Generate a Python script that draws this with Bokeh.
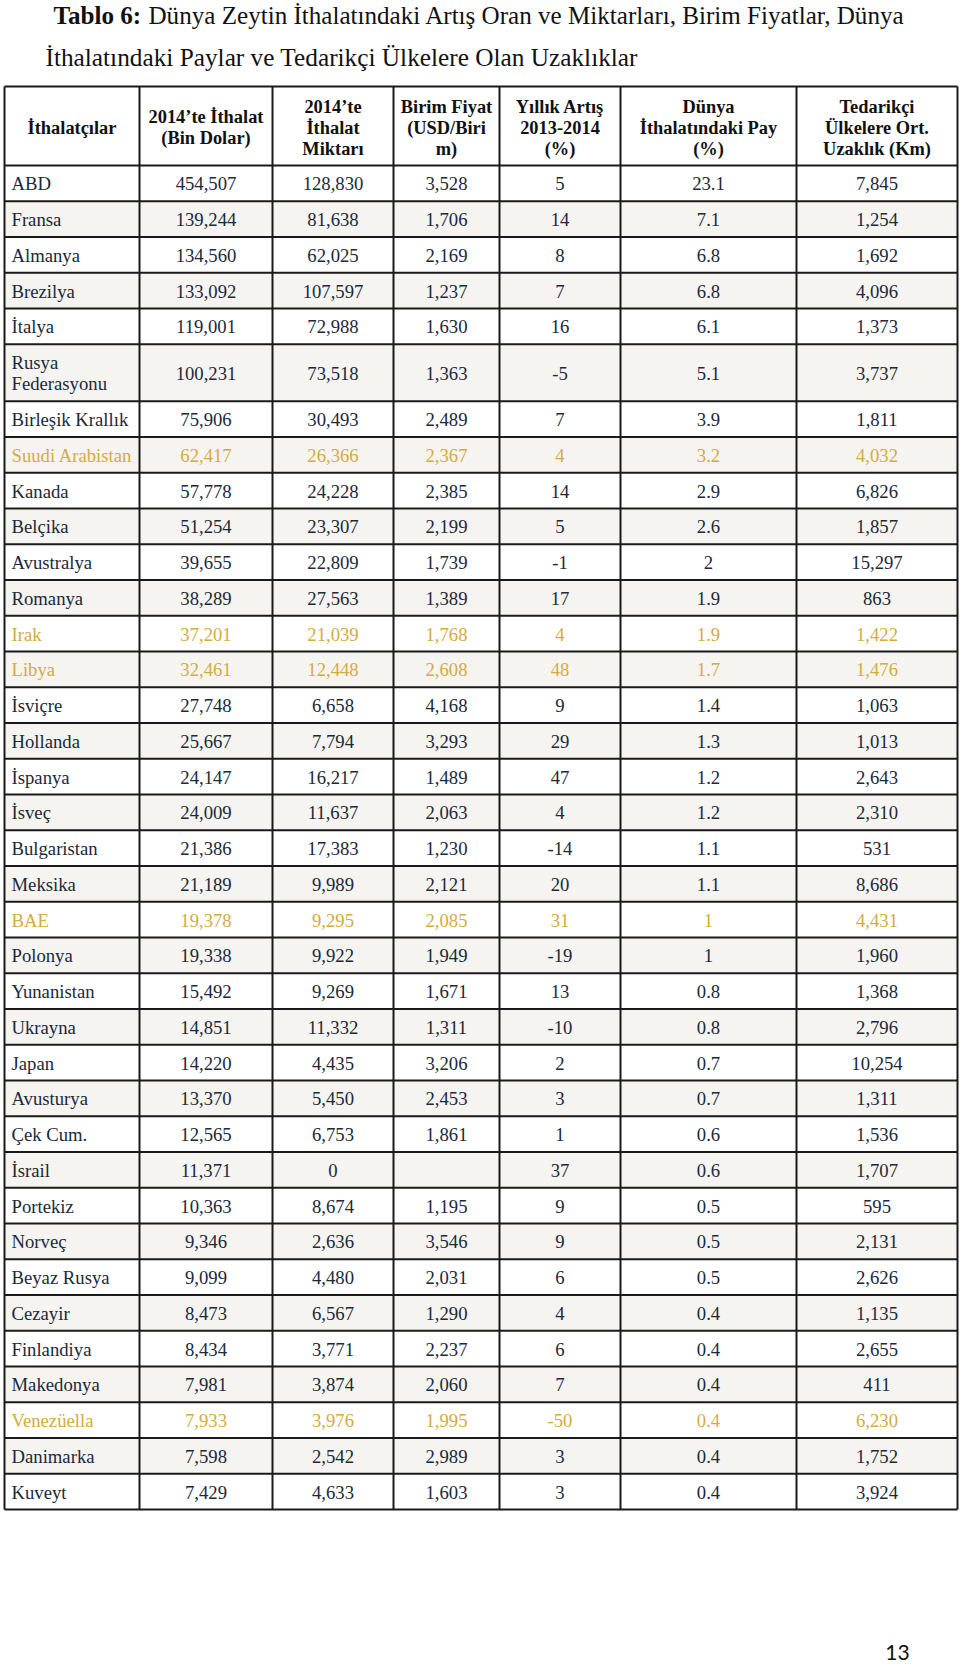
from bokeh.plotting import figure
from bokeh.models import ColumnDataSource, Range1d
from bokeh.core.properties import value
from bokeh.embed import file_html
from bokeh.resources import INLINE

# ---------------- data ----------------
countries = ["ABD", "Fransa", "Almanya", "Brezilya", "İtalya", "Rusya Federasyonu",
             "Birleşik Krallık", "Suudi Arabistan", "Kanada", "Belçika", "Avustralya",
             "Romanya", "Irak", "Libya", "İsviçre", "Hollanda", "İspanya", "İsveç",
             "Bulgaristan", "Meksika", "BAE", "Polonya", "Yunanistan", "Ukrayna", "Japan",
             "Avusturya", "Çek Cum.", "İsrail", "Portekiz", "Norveç", "Beyaz Rusya",
             "Cezayir", "Finlandiya", "Makedonya", "Venezüella", "Danimarka", "Kuveyt"]
import_value = [454507, 139244, 134560, 133092, 119001, 100231, 75906, 62417, 57778, 51254,
                39655, 38289, 37201, 32461, 27748, 25667, 24147, 24009, 21386, 21189,
                19378, 19338, 15492, 14851, 14220, 13370, 12565, 11371, 10363, 9346,
                9099, 8473, 8434, 7981, 7933, 7598, 7429]
import_qty = [128830, 81638, 62025, 107597, 72988, 73518, 30493, 26366, 24228, 23307,
              22809, 27563, 21039, 12448, 6658, 7794, 16217, 11637, 17383, 9989,
              9295, 9922, 9269, 11332, 4435, 5450, 6753, 0, 8674, 2636,
              4480, 6567, 3771, 3874, 3976, 2542, 4633]
unit_price = [3528, 1706, 2169, 1237, 1630, 1363, 2489, 2367, 2385, 2199,
              1739, 1389, 1768, 2608, 4168, 3293, 1489, 2063, 1230, 2121,
              2085, 1949, 1671, 1311, 3206, 2453, 1861, None, 1195, 3546,
              2031, 1290, 2237, 2060, 1995, 2989, 1603]
growth = [5, 14, 8, 7, 16, -5, 7, 4, 14, 5, -1, 17, 4, 48, 9, 29, 47, 4, -14, 20,
          31, -19, 13, -10, 2, 3, 1, 37, 9, 9, 6, 4, 6, 7, -50, 3, 3]
world_share = [23.1, 7.1, 6.8, 6.8, 6.1, 5.1, 3.9, 3.2, 2.9, 2.6, 2, 1.9, 1.9, 1.7, 1.4,
               1.3, 1.2, 1.2, 1.1, 1.1, 1, 1, 0.8, 0.8, 0.7, 0.7, 0.6, 0.6, 0.5, 0.5,
               0.5, 0.4, 0.4, 0.4, 0.4, 0.4, 0.4]
distance = [7845, 1254, 1692, 4096, 1373, 3737, 1811, 4032, 6826, 1857, 15297, 863, 1422,
            1476, 1063, 1013, 2643, 2310, 531, 8686, 4431, 1960, 1368, 2796, 10254, 1311,
            1536, 1707, 595, 2131, 2626, 1135, 2655, 411, 6230, 1752, 3924]
highlighted = ["Suudi Arabistan", "Irak", "Libya", "BAE", "Venezüella"]
two_line_names = ["Rusya Federasyonu"]

headers = [["İthalatçılar"],
           ["2014’te İthalat", "(Bin Dolar)"],
           ["2014’te", "İthalat", "Miktarı"],
           ["Birim Fiyat", "(USD/Biri", "m)"],
           ["Yıllık Artış", "2013-2014", "(%)"],
           ["Dünya", "İthalatındaki Pay", "(%)"],
           ["Tedarikçi", "Ülkelere Ort.", "Uzaklık (Km)"]]
title_bold = "Tablo 6:"
title_rest = "Dünya Zeytin İthalatındaki Artış Oran ve Miktarları, Birim Fiyatlar, Dünya"
title_line2 = "İthalatındaki Paylar ve Tedarikçi Ülkelere Olan Uzaklıklar"
page_number = "13"

# ---------------- layout ----------------
W, H = 960, 1666
SERIF = value("Liberation Serif")
TEXT_C = "#1b2939"
GOLD_C = "#d5ab3e"
GREY_BG = "#f5f4f0"
LINE_C = "#1a1a1a"

col_edges = [4, 139, 272, 393, 499, 620, 796, 957]
header_top, header_bot = 86, 165
row_h, row_h2 = 35.75, 57
line_gap = 21

p = figure(width=W, height=H, x_range=Range1d(0, W), y_range=Range1d(H, 0),
           output_backend="svg", toolbar_location=None, min_border=0)
p.axis.visible = False
p.xgrid.visible = False
p.ygrid.visible = False
p.outline_line_color = None
p.background_fill_color = "white"
p.border_fill_color = "white"


def fmt_int(v):
    return "" if v is None else f"{v:,}"


def fmt_share(v):
    return f"{v:g}"


# rows geometry
tops, bots = [], []
y = header_bot
for name in countries:
    h = row_h2 if name in two_line_names else row_h
    tops.append(y)
    bots.append(y + h)
    y += h

# alternating backgrounds
gq = dict(left=[], right=[], top=[], bottom=[])
for i in range(len(countries)):
    if i % 2 == 1:
        gq["left"].append(col_edges[0]); gq["right"].append(col_edges[-1])
        gq["top"].append(tops[i]); gq["bottom"].append(bots[i])
p.quad(source=ColumnDataSource(gq), left="left", right="right", top="top", bottom="bottom",
       fill_color=GREY_BG, line_color=None)

# grid lines
hy = [header_top, header_bot] + bots
seg = dict(x0=[], y0=[], x1=[], y1=[])
for yy in hy:
    seg["x0"].append(col_edges[0]); seg["x1"].append(col_edges[-1])
    seg["y0"].append(yy); seg["y1"].append(yy)
for xx in col_edges:
    seg["x0"].append(xx); seg["x1"].append(xx)
    seg["y0"].append(header_top); seg["y1"].append(bots[-1])
p.segment(source=ColumnDataSource(seg), x0="x0", y0="y0", x1="x1", y1="y1",
          line_color=LINE_C, line_width=2)

# title
p.text(x=[53], y=[15], text=[title_bold], text_font=SERIF, text_font_size="25.1px",
       text_font_style="bold", text_color="#111111", text_baseline="middle", text_align="left")
p.text(x=[148], y=[15], text=[title_rest], text_font=SERIF, text_font_size="25.1px",
       text_color="#111111", text_baseline="middle", text_align="left")
p.text(x=[45], y=[56], text=[title_line2], text_font=SERIF, text_font_size="25.3px",
       text_color="#111111", text_baseline="middle", text_align="left")

# header
hd = dict(x=[], y=[], text=[])
hc = (header_top + header_bot) / 2 + 1.5
for j, lines in enumerate(headers):
    cx = (col_edges[j] + col_edges[j + 1]) / 2
    n = len(lines)
    for k, ln in enumerate(lines):
        hd["x"].append(cx)
        hd["y"].append(hc + (k - (n - 1) / 2) * line_gap)
        hd["text"].append(ln)
p.text(source=ColumnDataSource(hd), x="x", y="y", text="text", text_font=SERIF,
       text_font_size="18.4px", text_font_style="bold", text_color="#111111",
       text_baseline="middle", text_align="center")

# body
left = dict(x=[], y=[], text=[], c=[])
cen = dict(x=[], y=[], text=[], c=[])
for i, name in enumerate(countries):
    c = (tops[i] + bots[i]) / 2 + 0.5
    col = GOLD_C if name in highlighted else TEXT_C
    parts = name.split(" ") if name in two_line_names else [name]
    n = len(parts)
    for k, part in enumerate(parts):
        left["x"].append(col_edges[0] + 7)
        left["y"].append(c + (k - (n - 1) / 2) * line_gap)
        left["text"].append(part); left["c"].append(col)
    vals = [fmt_int(import_value[i]), fmt_int(import_qty[i]), fmt_int(unit_price[i]),
            str(growth[i]), fmt_share(world_share[i]), fmt_int(distance[i])]
    for j, v in enumerate(vals, start=1):
        cen["x"].append((col_edges[j] + col_edges[j + 1]) / 2); cen["y"].append(c)
        cen["text"].append(v); cen["c"].append(col)
p.text(source=ColumnDataSource(left), x="x", y="y", text="text", text_color="c",
       text_font=SERIF, text_font_size="18.7px", text_baseline="middle", text_align="left")
p.text(source=ColumnDataSource(cen), x="x", y="y", text="text", text_color="c",
       text_font=SERIF, text_font_size="18.7px", text_baseline="middle", text_align="center")

# page number
p.text(x=[897], y=[1652], text=[page_number], text_font=value("Lato"), text_font_size="21px",
       text_color="#111111", text_baseline="middle", text_align="center")

open("out.html", "w").write(file_html(p, INLINE))
